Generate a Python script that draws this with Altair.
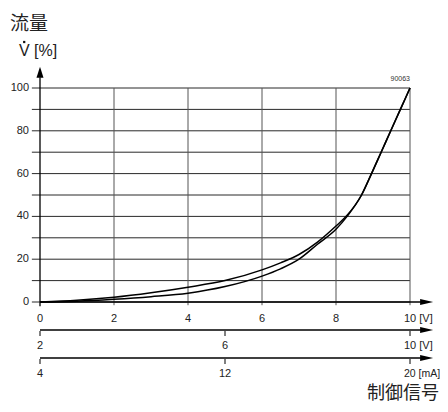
import altair as alt
import pandas as pd

# ---- data ----
volts_up = [0, 1, 2, 3, 4, 5, 6, 6.5, 7, 7.5, 8, 8.3, 8.69, 8.96, 9.22, 9.48, 9.74, 10]
flow_up = [0, 0.8, 2.2, 4.3, 6.9, 10, 15, 18.3, 22.2, 28, 35.5, 40.5, 50, 60, 70, 80, 90, 100]
volts_low = [0, 1, 2, 3, 4, 5, 6, 6.5, 7, 7.5, 8, 8.3, 8.69, 8.96, 9.22, 9.48, 9.74, 10]
flow_low = [0, 0.4, 1.3, 2.5, 4.1, 7.2, 12.1, 15.5, 20, 27, 34, 40, 50, 60, 70, 80, 90, 100]

v_ticks = [0, 2, 4, 6, 8, 10]
v_labels = ["0", "2", "4", "6", "8", "10 [V]"]
v2_ticks = [2, 6, 10]
v2_labels = ["2", "6", "10 [V]"]
ma_ticks = [4, 12, 20]
ma_labels = ["4", "12", "20 [mA]"]
y_grid = [0, 10, 20, 30, 40, 50, 60, 70, 80, 90, 100]
y_labels = [0, 20, 40, 60, 80, 100]

FONT = "Liberation Sans"
CJK = "Noto Sans CJK JP"

xs = alt.Scale(domain=[0, 10], nice=False, zero=False)
ys = alt.Scale(domain=[0, 100], nice=False, zero=False)


def X(field=None, datum=None):
    if datum is not None:
        return alt.X(datum=datum, type="quantitative", scale=xs, axis=None)
    return alt.X(field, type="quantitative", scale=xs, axis=None)


def Y(field=None, datum=None):
    if datum is not None:
        return alt.Y(datum=datum, type="quantitative", scale=ys, axis=None)
    return alt.Y(field, type="quantitative", scale=ys, axis=None)


one = pd.DataFrame({"a": [0]})
layers = []

# horizontal grid
hg = pd.DataFrame({"y": y_grid})
layers.append(alt.Chart(hg).mark_rule(color="#111", strokeWidth=0.9).encode(
    x=X(datum=-0.22), x2=alt.X2(datum=10), y=Y("y")))

# vertical grid
vg = pd.DataFrame({"x": v_ticks[1:]})
layers.append(alt.Chart(vg).mark_rule(color="#555", strokeWidth=1).encode(
    x=X("x"), y=Y(datum=-1.5), y2=alt.Y2(datum=100)))

# y axis line + arrow
layers.append(alt.Chart(one).mark_rule(color="black", strokeWidth=1.3).encode(
    x=X(datum=0), y=Y(datum=-2), y2=alt.Y2(datum=105)))
layers.append(alt.Chart(one).mark_point(
    shape="M0,-1L0.64,1L-0.64,1Z", size=121, filled=True, color="black", opacity=1).encode(
    x=X(datum=0), y=Y(datum=107.4)))

# x axis line + arrow
layers.append(alt.Chart(one).mark_rule(color="black", strokeWidth=1.3).encode(
    x=X(datum=0), x2=alt.X2(datum=10.3), y=Y(datum=0)))
layers.append(alt.Chart(one).mark_point(
    shape="M1,0L-1,0.46L-1,-0.46Z", size=169, filled=True, color="black", opacity=1).encode(
    x=X(datum=10.45), y=Y(datum=0)))

# curves
up = pd.DataFrame({"v": volts_up, "f": flow_up})
lo = pd.DataFrame({"v": volts_low, "f": flow_low})
for d in (up, lo):
    layers.append(alt.Chart(d).mark_line(color="black", strokeWidth=1.5, interpolate="monotone").encode(
        x=X("v"), y=Y("f")))

# y labels
yl = pd.DataFrame({"y": y_labels, "t": [str(v) for v in y_labels]})
layers.append(alt.Chart(yl).mark_text(align="right", baseline="middle", font=FONT, fontSize=11,
                                      color="#222").encode(
    x=alt.value(-11), y=Y("y"), text="t:N"))

# x labels (main axis)
xl = pd.DataFrame({"x": v_ticks, "t": v_labels})
layers.append(alt.Chart(xl[:-1]).mark_text(align="center", baseline="middle", font=FONT, fontSize=11,
                                           color="#222").encode(
    x=X("x"), y=alt.value(231), text="t:N"))
layers.append(alt.Chart(xl[-1:]).mark_text(align="left", dx=-6, baseline="middle", font=FONT, fontSize=11,
                                           color="#222").encode(
    x=X("x"), y=alt.value(231), text="t:N"))

# secondary axes
for ticks, labels, lo_v, hi_v, ly, ty, lab_y, lsize in [
    (v2_ticks, v2_labels, 2, 10, 242, 243, 258, 11),
    (ma_ticks, ma_labels, 4, 20, 270, 271, 286, 10.5),
]:
    pos = [(t - lo_v) / (hi_v - lo_v) * 10 for t in ticks]
    layers.append(alt.Chart(one).mark_rule(color="black", strokeWidth=1.3).encode(
        x=X(datum=0), x2=alt.X2(datum=10.3), y=alt.value(ly)))
    layers.append(alt.Chart(one).mark_point(
        shape="M1,0L-1,0.46L-1,-0.46Z", size=169, filled=True, color="black", opacity=1).encode(
        x=X(datum=10.45), y=alt.value(ly)))
    td = pd.DataFrame({"x": pos, "t": labels})
    layers.append(alt.Chart(td).mark_rule(color="black", strokeWidth=1).encode(
        x=X("x"), y=alt.value(ty), y2=alt.value(ty + 5)))
    layers.append(alt.Chart(td[:-1]).mark_text(align="center", baseline="middle", font=FONT, fontSize=11,
                                               color="#222").encode(
        x=X("x"), y=alt.value(lab_y), text="t:N"))
    layers.append(alt.Chart(td[-1:]).mark_text(align="left", dx=-6, baseline="middle", font=FONT,
                                               fontSize=lsize, color="#222").encode(
        x=X("x"), y=alt.value(lab_y), text="t:N"))


# titles / annotations
def txt(s, x, y, size, font, align="left", color="#222"):
    return alt.Chart(pd.DataFrame({"t": [s]})).mark_text(
        align=align, baseline="middle", font=font, fontSize=size, color=color).encode(
        x=alt.value(x), y=alt.value(y), text="t:N")


layers.append(txt("流量", -30, -64, 19, CJK))
layers.append(txt("V [%]", -21, -37, 16, FONT))
# dot over V (flow-rate symbol)
layers.append(alt.Chart(one).mark_point(shape="square", size=5, filled=True, color="#111",
                                        opacity=1).encode(x=alt.value(-15.8), y=alt.value(-46)))
layers.append(txt("90063", 370, -9, 7, FONT, align="right", color="#333"))
layers.append(txt("制御信号", 399, 306, 18, CJK, align="right"))

chart = alt.layer(*layers).properties(
    width=370, height=214,
    autosize=alt.AutoSizeParams(type="none"),
    padding={"left": 32, "top": 80, "right": 30, "bottom": 102},
).configure_view(stroke=None)

chart.save("out.html", embed_options={"renderer": "svg", "actions": False})
